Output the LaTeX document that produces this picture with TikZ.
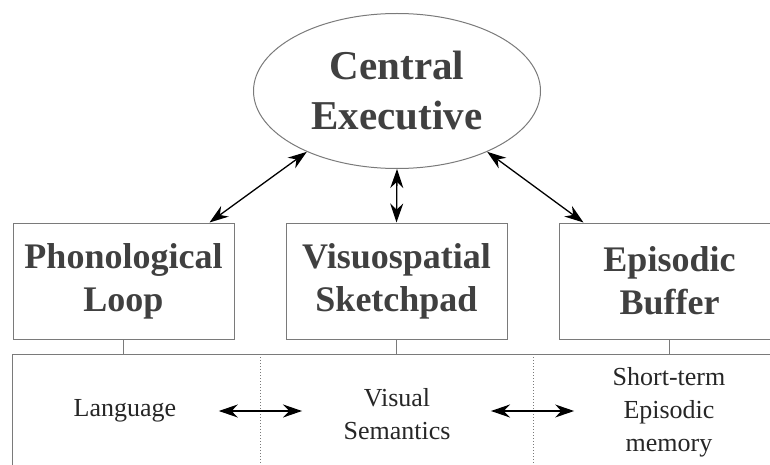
\documentclass[tikz,border=0pt]{standalone}
\usepackage{fontspec}
\setmainfont{Liberation Serif}
\usetikzlibrary{shapes.geometric,arrows.meta}
\definecolor{ink}{HTML}{404040}
\definecolor{frame}{HTML}{7A7A7A}
\begin{document}
\begin{tikzpicture}[x=1pt, y=-1pt,
  part/.style={draw=frame, line width=1pt, minimum width=221pt, minimum height=116pt, align=center, text=ink, font=\fontsize{36}{43}\selectfont\bfseries},
  hub/.style={ellipse, draw=frame, line width=1pt, minimum width=287pt, minimum height=155pt, inner sep=0pt, align=center, text=ink, font=\fontsize{41}{50}\selectfont\bfseries},
  note/.style={align=center, text=black!85, font=\fontsize{26}{33}\selectfont},
  link/.style={{Stealth[length=19pt,width=13pt]}-{Stealth[length=19pt,width=13pt]}, line width=1.3pt}
]
\clip (0,0) rectangle (770,465);
\node[hub] (ce) at (397,91) {Central\\Executive};
\node[part] (pl) at (123.5,281) {Phonological\\Loop};
\node[part] (vs) at (396.5,281) {Visuospatial\\Sketchpad};
\node[part] (eb) at (669.5,281) {Episodic\\Buffer};
\node[draw=frame, line width=1pt, minimum width=788pt, minimum height=146pt] (mem) at (406,427) {};
\draw[frame, line width=1pt] (pl.south) -- (pl.south |- mem.north);
\draw[frame, line width=1pt] (vs.south) -- (vs.south |- mem.north);
\draw[frame, line width=1pt] (eb.south) -- (eb.south |- mem.north);
\draw[frame, dotted, line width=1pt] (260,354) -- (260,465);
\draw[frame, dotted, line width=1pt] (533,354) -- (533,465);
\node[note] (lang) at (125,411) {Language};
\node[note] (vis) at (397,414) {Visual\\Semantics};
\node[note] (stm) at (669,412) {Short-term\\Episodic\\memory};
\draw[link] (ce.214) -- ([xshift=-25pt]pl.north east);
\draw[link] (ce.south) -- (vs.north);
\draw[link] (ce.326) -- ([xshift=25pt]eb.north west);
\draw[link, shorten <=39pt, shorten >=38pt] (lang.east) -- (lang.east -| vis.west);
\draw[link, shorten <=37pt, shorten >=35pt] (vis.east |- lang.east) -- (lang.east -| stm.west);
\end{tikzpicture}
\end{document}
